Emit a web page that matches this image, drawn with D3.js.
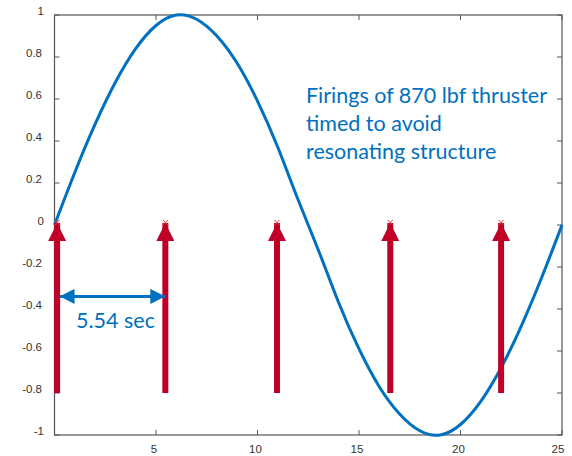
<!DOCTYPE html>
<html>
<head>
<meta charset="utf-8">
<script src="https://cdn.jsdelivr.net/npm/d3@7"></script>
<style>
  body { margin: 0; background: #fff; }
  svg { display: block; }
</style>
</head>
<body>
<svg id="chart" width="572" height="456"></svg>
<script>
// curve samples (time in sec, normalised response)
const curveX = [0, 1, 2, 3, 4, 5, 6, 7, 8, 9, 10, 11, 12, 13, 14, 15, 16, 17, 18, 19, 20, 21, 22, 23, 24, 25];
const curveY = [0, 0.25, 0.48, 0.68, 0.84, 0.95, 1.0, 0.98, 0.9, 0.77, 0.59, 0.37, 0.12, -0.12, -0.37, -0.59, -0.77, -0.9, -0.98, -1.0, -0.95, -0.84, -0.68, -0.48, -0.25, 0];

// thruster firings
const firingTimes = [0.13, 5.46, 10.96, 16.54, 22.0];
const firingBase = -0.8;
const firingTop = 0;

const xTicks = [5, 10, 15, 20, 25];
const yTicks = [-1, -0.8, -0.6, -0.4, -0.2, 0, 0.2, 0.4, 0.6, 0.8, 1];

const spanFrom = 0.25, spanTo = 5.46, spanY = -0.34;
const spanLabel = '5.54 sec';
const noteLines = ['Firings of 870 lbf thruster', 'timed to avoid', 'resonating structure'];

const blue = '#0070c0';
const red = '#c00028';
const axisCol = '#555';

const svg = d3.select('#chart');
const box = { left: 54.5, right: 562, top: 15, bottom: 435 };

const x = d3.scaleLinear().domain([0, 25]).range([box.left, box.right]);
const y = d3.scaleLinear().domain([-1, 1]).range([box.bottom, box.top]);

const defs = svg.append('defs');
function marker(id, color, w, h) {
  defs.append('marker')
    .attr('id', id)
    .attr('viewBox', `0 0 ${w} ${h}`)
    .attr('refX', w).attr('refY', h / 2)
    .attr('markerWidth', w).attr('markerHeight', h)
    .attr('markerUnits', 'userSpaceOnUse')
    .attr('orient', 'auto-start-reverse')
    .append('path')
    .attr('d', `M0,0L${w},${h / 2}L0,${h}Z`)
    .attr('fill', color);
}
marker('redHead', red, 18, 18);
marker('blueHead', blue, 15, 15);

// axes box, ticks inward
const ax = svg.append('g').attr('class', 'axes');
ax.append('rect')
  .attr('x', box.left).attr('y', box.top)
  .attr('width', box.right - box.left).attr('height', box.bottom - box.top)
  .attr('fill', 'none').attr('stroke', axisCol).attr('stroke-width', 1.2);

const tickLen = 5;
const labelFont = 'Liberation Sans, Arial, sans-serif';

ax.selectAll('.xt').data(xTicks).join('path')
  .attr('d', d => `M${x(d)},${box.bottom}v${-tickLen}M${x(d)},${box.top}v${tickLen}`)
  .attr('stroke', axisCol);
ax.selectAll('.xl').data(xTicks).join('text')
  .attr('x', d => d === 25 ? x(d) - 4 : x(d) - 2)
  .attr('y', box.bottom + 18)
  .attr('text-anchor', 'middle')
  .attr('font-family', labelFont).attr('font-size', 11.5).attr('fill', '#333')
  .text(d => d);

ax.selectAll('.yt').data(yTicks).join('path')
  .attr('d', d => `M${box.left},${y(d)}h${tickLen}M${box.right},${y(d)}h${-tickLen}`)
  .attr('stroke', axisCol);
ax.selectAll('.yl').data(yTicks).join('text')
  .attr('x', d => (d === 1 || d === -1 || d === 0) ? 44 : 42)
  .attr('y', d => y(d) - 0.5)
  .attr('text-anchor', 'end')
  .attr('font-family', labelFont).attr('font-size', 11.5).attr('fill', '#333')
  .text(d => d);

// response curve
const pts = curveX.map((v, i) => [v, curveY[i]]);
svg.append('path')
  .datum(pts)
  .attr('fill', 'none')
  .attr('stroke', blue)
  .attr('stroke-width', 3)
  .attr('d', d3.line().x(d => x(d[0])).y(d => y(d[1])).curve(d3.curveNatural));

// firing arrows
const arrows = svg.append('g');
arrows.selectAll('line').data(firingTimes).join('line')
  .attr('x1', d => x(d)).attr('x2', d => x(d))
  .attr('y1', y(firingBase)).attr('y2', y(firingTop) - 2)
  .attr('stroke', red).attr('stroke-width', 6)
  .attr('marker-end', 'url(#redHead)');
arrows.selectAll('path.xm').data(firingTimes).join('path')
  .attr('class', 'xm')
  .attr('d', d => {
    const cx = x(d), cy = y(firingTop) - 2.5, s = 2.5;
    return `M${cx - s},${cy - s}L${cx + s},${cy + s}M${cx - s},${cy + s}L${cx + s},${cy - s}`;
  })
  .attr('stroke', '#f03030').attr('stroke-width', 1);

// spacing annotation
svg.append('line')
  .attr('x1', x(spanFrom)).attr('x2', x(spanTo))
  .attr('y1', y(spanY)).attr('y2', y(spanY))
  .attr('stroke', blue).attr('stroke-width', 3)
  .attr('marker-start', 'url(#blueHead)')
  .attr('marker-end', 'url(#blueHead)');

const noteFont = 'Lato, "Open Sans", sans-serif';
svg.append('text')
  .attr('x', 76).attr('y', 328)
  .attr('font-family', noteFont).attr('font-size', 21.5).attr('fill', blue)
  .text(spanLabel);

svg.append('g').selectAll('text').data(noteLines).join('text')
  .attr('x', 306)
  .attr('y', (d, i) => 103 + i * 28)
  .attr('font-family', noteFont).attr('font-size', 21.5).attr('fill', blue)
  .text(d => d);
</script>
</body>
</html>
